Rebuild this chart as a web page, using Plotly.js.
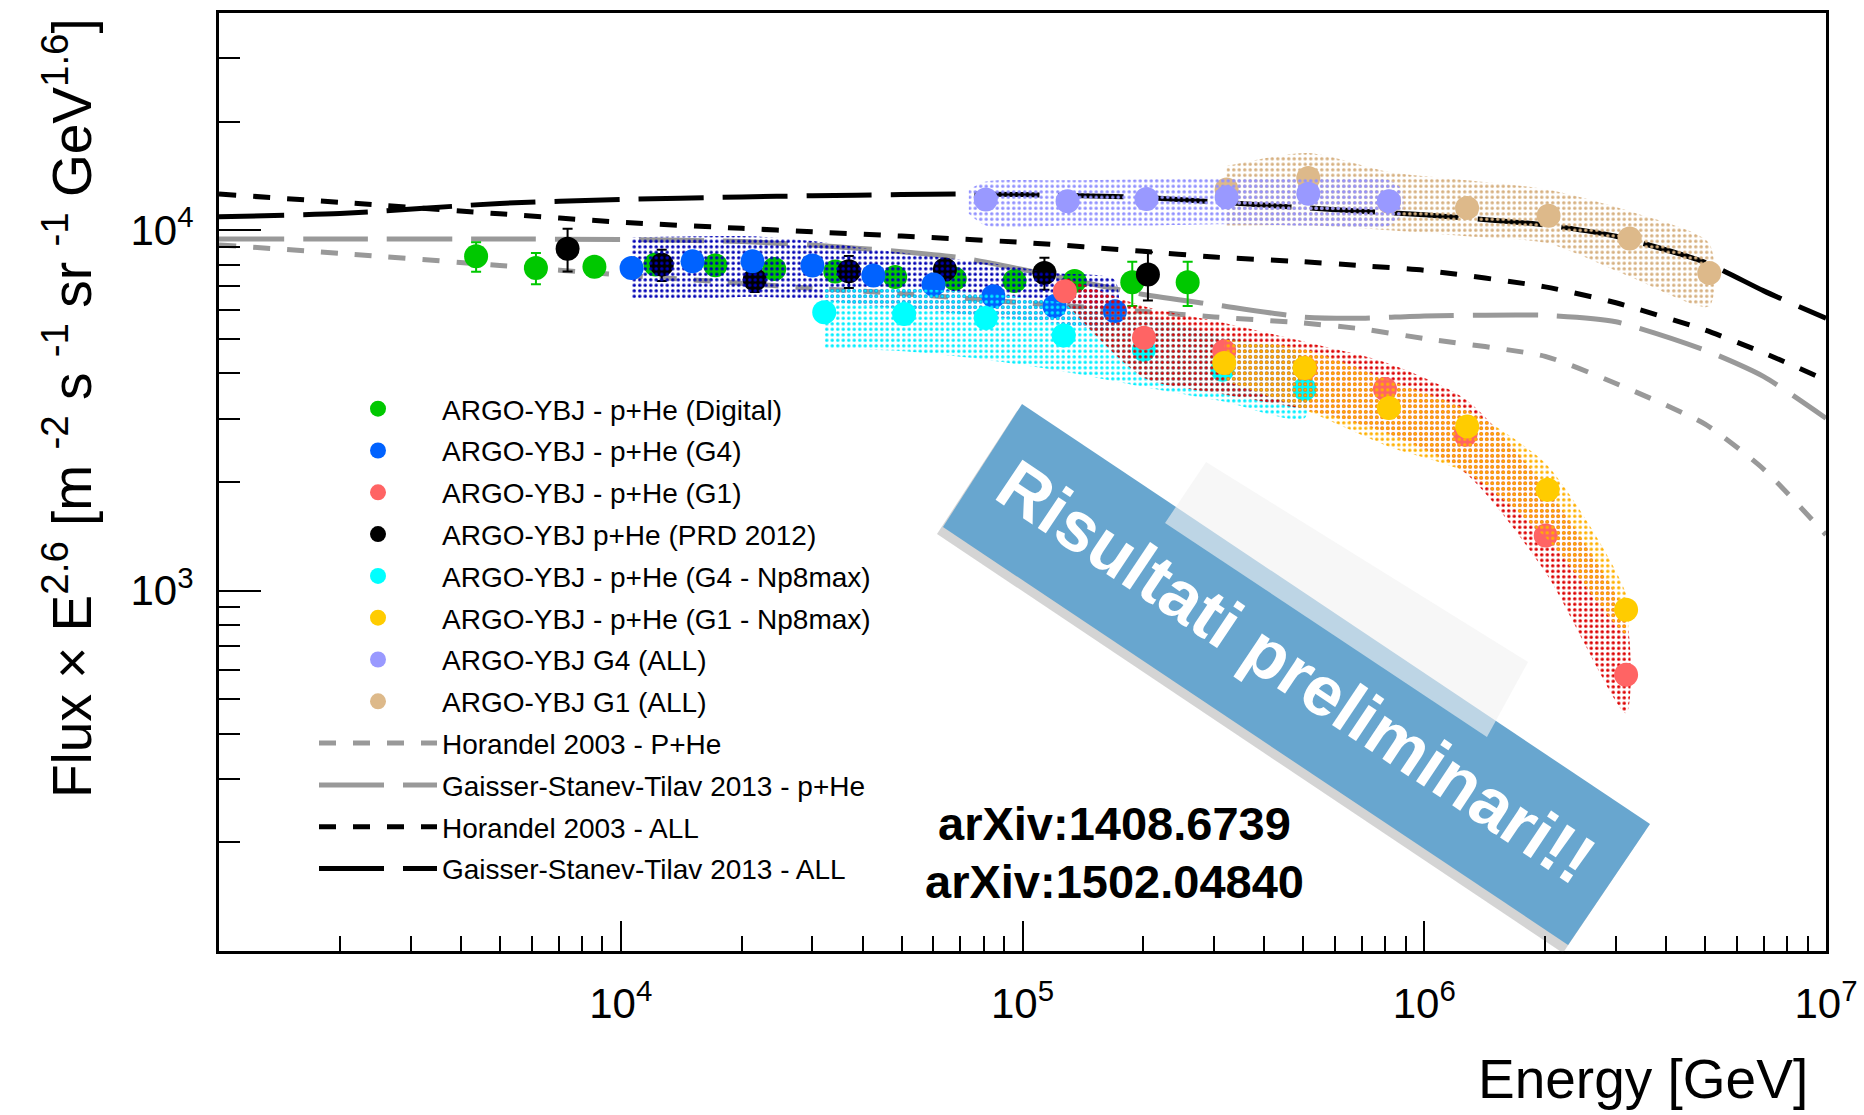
<!DOCTYPE html>
<html><head><meta charset="utf-8">
<script src="https://cdn.plot.ly/plotly-3.0.1.min.js"></script>
<style>html,body{margin:0;padding:0;background:#fff;} #chart{width:1864px;height:1115px;}</style>
</head><body><div id="chart"></div>
<script>
// ---------------- data (energy in GeV, flux x E^2.6) ----------------
const digitalE = [4365, 6150, 8600, 12200, 17200, 24100, 34200, 48200, 67800, 95500, 134800, 187600, 257700];
const digitalF = [8455, 7850, 7915, 8020, 7980, 7800, 7670, 7410, 7330, 7225, 7225, 7160, 7160];
const digitalErr = [800, 780, 300, 300, 300, 300, 300, 300, 300, 300, 300, 1000, 1000];

const prdE = [7373, 12650, 21550, 36960, 64100, 113400, 205200];
const prdF = [8875, 8017, 7285, 7685, 7774, 7603, 7522];
const prdErr = [1200, 800, 550, 780, 500, 770, 1150];

const g4E = [10640, 15090, 21280, 30000, 42540, 60060, 84620, 120200, 169800];
const g4F = [7850, 8190, 8190, 7970, 7475, 7058, 6550, 6145, 5953];
const g4BandHi = [9540, 9612, 9612, 9324, 8843, 8450, 8072, 7597, 7259];
const g4BandLo = [6427, 6427, 6526, 6427, 6141, 5957, 5735, 5521, 5356];

const g1E = [127500, 200600, 317800, 505800, 798400, 1266000, 2006000, 3180000];
const g1F = [6761, 5022, 4608, 4137, 3623, 2705, 1420, 584];
const g1BandHi = [7400, 6141, 5521, 4890, 4297, 3394, 1935, 839];
const g1BandLo = [6300, 3892, 3499, 3171, 2744, 2120, 1120, 457];

const g4npE = [32100, 50740, 81030, 126650, 200500, 314600, 503700];
const g4npF = [5911, 5849, 5704, 5098, 4657, 4099, 3623];
const g4npBandHi = [6934, 6881, 6675, 6283, 5823, 5077, 4463];
const g4npBandLo = [4715, 4608, 4369, 4050, 3669, 3348, 3006];

const g1npE = [317800, 503700, 816600, 1279000, 2028000, 3180000];
const g1npF = [4277, 4142, 3209, 2853, 1904, 884];
const g1npBandHi = [4963, 4671, 3833, 3171, 2219, 977];
const g1npBandLo = [3833, 3171, 2506, 2120, 1385, 760];

const g4allE = [81030, 129500, 203500, 322200, 514500, 816600];
const g4allF = [12150, 12020, 12200, 12320, 12600, 12020];
const g4allBandE = [73500, 81030, 129500, 203500, 322200, 514500, 816600, 880000];
const g4allBandHi = [12930, 13630, 13740, 13840, 13950, 13950, 13740, 12930];
const g4allBandLo = [11100, 10290, 10290, 10290, 10370, 10290, 10290, 11100];

const g1allE = [322200, 514500, 816600, 1278000, 2039000, 3245000, 5122000];
const g1allF = [12950, 13950, 11980, 11520, 10960, 9467, 7603];
const g1allBandHi = [15050, 16360, 14490, 13740, 12930, 11275, 9183];
const g1allBandLo = [10290, 10290, 9984, 9612, 9183, 7428, 6141];

const modelE = [1e3, 2e3, 5e3, 1e4, 2e4, 3e4, 5e4, 7e4, 1e5, 2e5, 3e5, 5e5, 7e5, 1e6, 2e6, 3e6, 5e6, 7e6, 1e7];
const horPHe = [9095, 8616, 7975, 7508, 7119, 6891, 6661, 6479, 6281, 5948, 5739, 5521, 5316, 5001, 4463, 3751, 2895, 2169, 1427];
const gstPHe = [9447, 9447, 9447, 9410, 9290, 9081, 8710, 8384, 7774, 6625, 6210, 5735, 5690, 5778, 5800, 5564, 4643, 3922, 3006];
const horAll = [12590, 11937, 11090, 10515, 10107, 9886, 9621, 9439, 9240, 8727, 8416, 8168, 7962, 7733, 6955, 6283, 5279, 4562, 3833];
const gstAll = [10890, 11105, 11855, 12160, 12350, 12450, 12540, 12590, 12540, 12310, 11980, 11535, 11275, 11020, 10330, 9612, 8135, 6779, 5690];

const names = {
  dig: 'ARGO-YBJ - p+He (Digital)', g4: 'ARGO-YBJ - p+He (G4)', g1: 'ARGO-YBJ - p+He (G1)',
  prd: 'ARGO-YBJ p+He (PRD 2012)', g4np: 'ARGO-YBJ - p+He (G4 - Np8max)', g1np: 'ARGO-YBJ - p+He (G1 - Np8max)',
  g4all: 'ARGO-YBJ G4 (ALL)', g1all: 'ARGO-YBJ G1 (ALL)',
  horP: 'Horandel 2003 - P+He', gstP: 'Gaisser-Stanev-Tilav 2013 - p+He',
  horA: 'Horandel 2003 - ALL', gstA: 'Gaisser-Stanev-Tilav 2013 - ALL'
};
const xTickVals = [1e4, 1e5, 1e6, 1e7];
const xTickText = ['10<sup>4</sup>', '10<sup>5</sup>', '10<sup>6</sup>', '10<sup>7</sup>'];
const yTickVals = [1e3, 1e4];
const yTickText = ['10<sup>3</sup>', '10<sup>4</sup>'];

// ---------------- helpers ----------------
const FONT = 'Liberation Sans, Arial, Helvetica, sans-serif';
function minorLog(from, to) { const v = []; for (let d = from; d < to; d *= 10) for (let k = 2; k <= 9; k++) v.push(k * d); return v; }

function bandTrace(E, hi, lo, color, group) {
  return {
    x: E.concat(E.slice().reverse()), y: hi.concat(lo.slice().reverse()),
    type: 'scatter', mode: 'lines', line: {width: 0, shape: 'spline', smoothing: 0.7},
    fill: 'toself', fillcolor: 'rgba(0,0,0,0)',
    fillpattern: {shape: '.', fgcolor: color, bgcolor: 'rgba(0,0,0,0)', size: 5.5, solidity: 0.3},
    hoverinfo: 'skip', showlegend: false, legendgroup: group
  };
}
function ptsTrace(E, F, color, name, rank, group, err) {
  const t = {x: E, y: F, type: 'scatter', mode: 'markers', name: name, legendrank: rank, legendgroup: group,
    marker: {size: 24, color: color, line: {width: 0}}};
  if (err) t.error_y = {type: 'data', array: err, color: color, thickness: 2, width: 5, visible: true};
  return t;
}
function modelTrace(F, color, dash, name, rank) {
  return {x: modelE, y: F, type: 'scatter', mode: 'lines', name: name, legendrank: rank, legendgroup: name,
    line: {color: color, width: 5, dash: dash, shape: 'spline', smoothing: 0.6}};
}
const SHORT = '17px,17px', LONG = '65px,19px';

const traces = [
  modelTrace(horPHe, '#999999', SHORT, names.horP, 9),
  modelTrace(gstPHe, '#999999', LONG, names.gstP, 10),
  modelTrace(horAll, '#000000', SHORT, names.horA, 11),
  modelTrace(gstAll, '#000000', LONG, names.gstA, 12),
  ptsTrace(digitalE, digitalF, '#00c800', names.dig, 1, 'dig', digitalErr),
  ptsTrace(prdE, prdF, '#000000', names.prd, 4, 'prd', prdErr),
  bandTrace(g4E, g4BandHi, g4BandLo, '#0000b4', 'g4'),
  ptsTrace(g4E, g4F, '#0062ff', names.g4, 2, 'g4'),
  bandTrace(g4npE, g4npBandHi, g4npBandLo, '#00eeff', 'g4np'),
  ptsTrace(g4npE, g4npF, '#00ffff', names.g4np, 5, 'g4np'),
  bandTrace(g1E, g1BandHi, g1BandLo, '#dd0000', 'g1'),
  ptsTrace(g1E, g1F, '#ff6464', names.g1, 3, 'g1'),
  bandTrace(g1npE, g1npBandHi, g1npBandLo, '#ffb000', 'g1np'),
  ptsTrace(g1npE, g1npF, '#ffcc00', names.g1np, 6, 'g1np'),
  bandTrace(g1allE, g1allBandHi, g1allBandLo, '#d6b080', 'g1all'),
  ptsTrace(g1allE, g1allF, '#ddb98a', names.g1all, 8, 'g1all'),
  bandTrace(g4allBandE, g4allBandHi, g4allBandLo, '#9090ff', 'g4all'),
  ptsTrace(g4allE, g4allF, '#9999ff', names.g4all, 7, 'g4all')
];

// plot area in pixels: x 219..1826, y 13..951
const L = 219, R = 1826, T = 13, B = 951;
function px(X) { return (X - L) / (R - L); }
function py(Y) { return (B - Y) / (B - T); }
function poly(pts) { return 'M' + pts.map(p => px(p[0]).toFixed(4) + ',' + py(p[1]).toFixed(4)).join(' L') + ' Z'; }

const layout = {
  width: 1864, height: 1115,
  margin: {l: L, r: 1864 - R, t: T, b: 1115 - B, pad: 0},
  paper_bgcolor: '#ffffff', plot_bgcolor: '#ffffff',
  font: {family: FONT, color: '#000'},
  showlegend: true,
  hovermode: false,
  xaxis: {
    type: 'log', range: [3, 7], showgrid: false, zeroline: false,
    showline: true, linecolor: '#000', linewidth: 3, mirror: true,
    ticks: 'inside', ticklen: 30, tickwidth: 2, tickcolor: '#000',
    tickmode: 'array', tickvals: xTickVals, ticktext: xTickText,
    tickfont: {family: FONT, size: 42, color: '#000'}, ticklabelstandoff: 14,
    minor: {tickmode: 'array', tickvals: minorLog(1e3, 1e7), ticks: 'inside', ticklen: 15, tickwidth: 2, tickcolor: '#000', showgrid: false}
  },
  yaxis: {
    type: 'log', range: [2, Math.log10(40000)], showgrid: false, zeroline: false,
    showline: true, linecolor: '#000', linewidth: 3, mirror: true,
    ticks: 'inside', ticklen: 42, tickwidth: 2, tickcolor: '#000',
    tickmode: 'array', tickvals: yTickVals, ticktext: yTickText,
    tickfont: {family: FONT, size: 42, color: '#000'}, ticklabelstandoff: 14,
    minor: {tickmode: 'array', tickvals: minorLog(100, 1e4).concat([20000, 30000]), ticks: 'inside', ticklen: 21, tickwidth: 2, tickcolor: '#000', showgrid: false}
  },
  legend: {
    x: px(314), y: py(384), xanchor: 'left', yanchor: 'top',
    bgcolor: 'rgba(0,0,0,0)', borderwidth: 0,
    font: {family: FONT, size: 28, color: '#000'},
    itemwidth: 118, tracegroupgap: 2.4, traceorder: 'grouped'
  },
  shapes: [
    {type: 'path', xref: 'paper', yref: 'paper', layer: 'above', path: poly([[1017, 411], [1645, 831], [1563, 953], [937, 534]]), fillcolor: 'rgba(60,60,60,0.22)', line: {width: 0}},
    {type: 'path', xref: 'paper', yref: 'paper', layer: 'above', path: poly([[1022, 404], [1650, 824], [1568, 945], [943, 527]]), fillcolor: 'rgb(104,166,207)', line: {width: 0}},
    {type: 'path', xref: 'paper', yref: 'paper', layer: 'above', path: poly([[1206, 462], [1528, 662], [1487, 737], [1165, 523]]), fillcolor: 'rgba(242,242,242,0.62)', line: {width: 0}}
  ],
  annotations: [
    {xref: 'paper', yref: 'paper', x: px(68), y: py(408), xanchor: 'center', yanchor: 'middle', textangle: -90, showarrow: false,
     text: 'Flux × E<sup>2.6</sup> [m <sup>-2</sup> s <sup>-1</sup> sr <sup>-1</sup> GeV<sup>1.6</sup>]', font: {family: FONT, size: 55, color: '#000'}},
    {xref: 'paper', yref: 'paper', x: px(1810), y: py(1079), xanchor: 'right', yanchor: 'middle', showarrow: false,
     text: 'Energy [GeV]', font: {family: FONT, size: 55, color: '#000'}},
    {xref: 'paper', yref: 'paper', x: px(1114), y: py(823), xanchor: 'center', yanchor: 'middle', showarrow: false,
     text: '<b>arXiv:1408.6739</b>', font: {family: FONT, size: 47, color: '#000'}},
    {xref: 'paper', yref: 'paper', x: px(1114), y: py(881), xanchor: 'center', yanchor: 'middle', showarrow: false,
     text: '<b>arXiv:1502.04840</b>', font: {family: FONT, size: 47, color: '#000'}},
    {xref: 'paper', yref: 'paper', x: px(1296), y: py(672), xanchor: 'center', yanchor: 'middle', showarrow: false, textangle: 33.8,
     text: '<b>Risultati preliminari!!</b>', font: {family: FONT, size: 70, color: '#ffffff'}}
  ]
};

Plotly.newPlot('chart', traces, layout, {displayModeBar: false, staticPlot: true});
</script></body></html>
